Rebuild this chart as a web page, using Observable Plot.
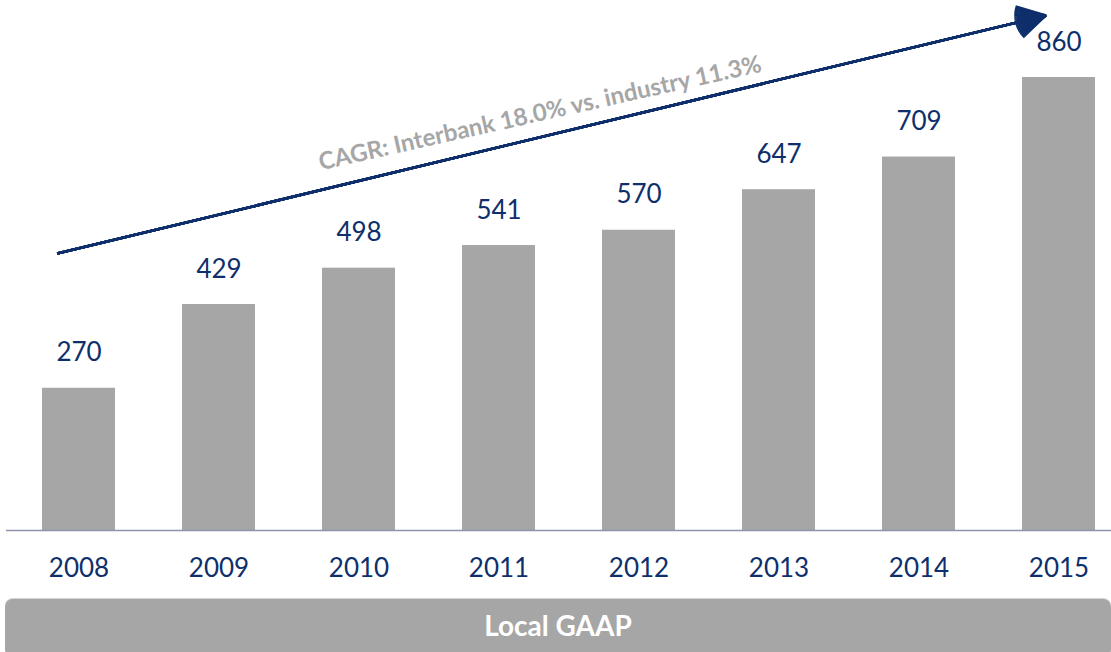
<!DOCTYPE html>
<html>
<head>
<meta charset="utf-8">
<script src="https://cdn.jsdelivr.net/npm/d3@7"></script>
<script src="https://cdn.jsdelivr.net/npm/@observablehq/plot@0.6"></script>
<style>
  html, body { margin: 0; padding: 0; background: #fff; overflow: hidden; }
  #chart svg { display: block; }
  #banner {
    margin-left: 5px; width: 1106px; height: 60px;
    background: #a6a6a6; border-radius: 8px; border-top: 1px solid #d4d4d4; box-sizing: border-box;
    color: #fff; font-family: Lato, sans-serif; font-weight: bold; font-size: 28px;
    line-height: 53px; text-align: center;
  }
</style>
</head>
<body>
<div id="chart"></div>
<div id="banner"></div>
<script>
const years = ["2008", "2009", "2010", "2011", "2012", "2013", "2014", "2015"];
const values = [270, 429, 498, 541, 570, 647, 709, 860];
const cagrLabel = "CAGR: Interbank 18.0% vs. industry 11.3%";
const bannerLabel = "Local GAAP";

const data = years.map((year, i) => ({year, value: values[i]}));
const navy = "#0e2f6b";
const barGray = "#a6a6a6";

// arrowhead drawn as a fan of chevrons so that it reads as a solid head
const headAngles = [60, 52, 44, 36, 28, 20, 12, 4];
const arrowMarks = headAngles.map(a => Plot.arrow([cagrLabel], {
  x1: () => "2008", y1: () => 528,
  x2: () => "2015", y2: () => 976,
  dx: -17, insetStart: -5, insetEnd: -4, bend: 0,
  stroke: navy, strokeWidth: 2.5, strokeLinecap: "butt", strokeLinejoin: "miter",
  headLength: 19, headAngle: a
}));

const chart = Plot.plot({
  width: 1111,
  height: 598,
  marginTop: 77,
  marginBottom: 68,
  marginLeft: 0,
  marginRight: 0,
  style: {fontFamily: "Lato, sans-serif", background: "white", overflow: "visible"},
  x: {domain: years, range: [40.7, 1096.5], paddingInner: 0.48, paddingOuter: 0, align: 0.5, axis: null},
  y: {domain: [0, 860], axis: null},
  marks: [
    Plot.barY(data, {x: "year", y: "value", fill: barGray}),
    Plot.ruleY([0], {stroke: "#8e94a9", strokeWidth: 1.5, insetLeft: 6}),
    Plot.text(years, {x: d => d, frameAnchor: "bottom", lineAnchor: "top", dy: 28, fontSize: 26, fill: navy}),
    Plot.text(data, {x: "year", y: "value", text: d => String(d.value), lineAnchor: "bottom", dy: -27, fontSize: 26, fill: navy}),
    ...arrowMarks,
    Plot.text([cagrLabel], {
      x: () => "2011", y: () => 792, dx: 41, text: d => d, rotate: -12.6,
      fontSize: 24, fontWeight: "bold", fill: barGray
    })
  ]
});
document.getElementById("chart").appendChild(chart);
document.getElementById("banner").textContent = bannerLabel;
</script>
</body>
</html>
